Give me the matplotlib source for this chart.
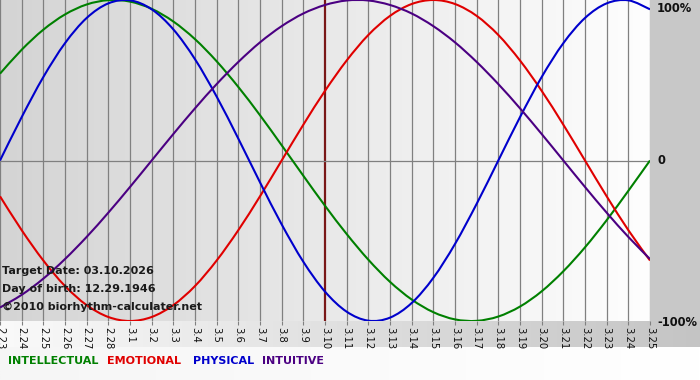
"""Biorhythm chart, 2.23 .. 3.25 around target date 03.10.2026."""

import numpy as np
import matplotlib
matplotlib.use('Agg')
import matplotlib.pyplot as plt
from matplotlib.colors import LinearSegmentedColormap
from matplotlib.path import Path
from matplotlib.patches import PathPatch

W, H = 700, 380

# day labels along the bottom
days = ['2.23', '2.24', '2.25', '2.26', '2.27', '2.28',
        '3.1', '3.2', '3.3', '3.4', '3.5', '3.6', '3.7', '3.8', '3.9', '3.10',
        '3.11', '3.12', '3.13', '3.14', '3.15', '3.16', '3.17', '3.18',
        '3.19', '3.20', '3.21', '3.22', '3.23', '3.24', '3.25']
target_day = '3.10'

# values (fraction of 100%)
intellectual = [0.541, 0.690, 0.815, 0.910, 0.972, 0.999, 0.990, 0.945,
                0.866, 0.756, 0.618, 0.458, 0.282, 0.095, -0.095, -0.282,
                -0.458, -0.618, -0.756, -0.866, -0.945, -0.990, -0.999,
                -0.972, -0.910, -0.815, -0.690, -0.541, -0.372, -0.189, 0.000]
emotional = [-0.223, -0.434, -0.623, -0.782, -0.901, -0.975, -1.000, -0.975,
             -0.901, -0.782, -0.623, -0.434, -0.223, 0.000, 0.223, 0.434,
             0.623, 0.782, 0.901, 0.975, 1.000, 0.975, 0.901, 0.782, 0.623,
             0.434, 0.223, 0.000, -0.223, -0.434, -0.623]
physical = [0.000, 0.270, 0.520, 0.731, 0.888, 0.979, 0.998, 0.942, 0.817,
            0.631, 0.398, 0.136, -0.136, -0.398, -0.631, -0.817, -0.942,
            -0.998, -0.979, -0.888, -0.731, -0.520, -0.270, 0.000, 0.270,
            0.520, 0.731, 0.888, 0.979, 0.998, 0.942]
intuitive = [-0.916, -0.837, -0.736, -0.614, -0.476, -0.325, -0.165, 0.000,
             0.165, 0.325, 0.476, 0.614, 0.736, 0.837, 0.916, 0.969, 0.997,
             0.997, 0.969, 0.916, 0.837, 0.736, 0.614, 0.476, 0.325, 0.165,
             0.000, -0.165, -0.325, -0.476, -0.614]

series = [('INTELLECTUAL', intellectual, '#008000'),
          ('EMOTIONAL', emotional, '#e00000'),
          ('PHYSICAL', physical, '#0000cc'),
          ('INTUITIVE', intuitive, '#4b0082')]

info_lines = ['Target Date: 03.10.2026', 'Day of birth: 12.29.1946',
              '\u00a92010 biorhythm-calculater.net']


def fx(px):
    return px / W


def fy(py):
    return 1 - py / H


def smooth_path(xs, ys):
    # cubic bezier through the daily points (catmull-rom tangents)
    xs = np.asarray(xs, float)
    ys = np.asarray(ys, float)
    verts = [(xs[0], ys[0])]
    codes = [Path.MOVETO]
    for i in range(len(xs) - 1):
        i0 = max(i - 1, 0)
        i3 = min(i + 2, len(xs) - 1)
        c1 = (xs[i] + (xs[i + 1] - xs[i0]) / 6, ys[i] + (ys[i + 1] - ys[i0]) / 6)
        c2 = (xs[i + 1] - (xs[i3] - xs[i]) / 6, ys[i + 1] - (ys[i3] - ys[i]) / 6)
        verts += [c1, c2, (xs[i + 1], ys[i + 1])]
        codes += [Path.CURVE4] * 3
    return Path(verts, codes)


fig = plt.figure(figsize=(W / 100, H / 100), dpi=100)
fig.patch.set_facecolor('#c8c8c8')

# background strips below the plot
bg = fig.add_axes([0, 0, 1, 1], zorder=0)
bg.axis('off')
grad = np.linspace(0, 1, 256).reshape(1, -1)
cm_bottom = LinearSegmentedColormap.from_list('b', ['#fafafa', '#c4c4c4'])
bg.imshow(grad, cmap=cm_bottom, extent=[0, W, 347, 321], aspect='auto')
cm_leg = LinearSegmentedColormap.from_list('l', ['#f6f6f6', '#ffffff'])
bg.imshow(grad, cmap=cm_leg, extent=[0, W, H, 347], aspect='auto')
bg.set_xlim(0, W)
bg.set_ylim(H, 0)

n = len(days)
x = np.arange(n)

ax = fig.add_axes([0, fy(321), fx(650), 321 / H], zorder=1)
cm_plot = LinearSegmentedColormap.from_list('p', ['#d4d4d4', '#fefefe'])
ax.imshow(grad, cmap=cm_plot, extent=[0, n - 1, -1, 1], aspect='auto',
          zorder=0)

for xi, d in zip(x, days):
    if d == target_day:
        ax.axvline(xi, color='#7a1818', lw=1.6, zorder=1)
    else:
        ax.axvline(xi, color='#808080', lw=0.9, zorder=1)
ax.axhline(0, color='#808080', lw=0.9, zorder=1)

for name, vals, col in series:
    ax.add_patch(PathPatch(smooth_path(x, vals), facecolor='none',
                           edgecolor=col, lw=1.5, zorder=2))

ax.set_xlim(0, n - 1)
ax.set_ylim(-1.0, 1.0)
ax.set_yticks([])
ax.set_xticks(x)
ax.set_xticklabels(days, rotation=-90, fontsize=7.2, color='#111111')
ax.tick_params(axis='x', length=3, width=0.8, color='#808080', pad=1)
for s in ax.spines.values():
    s.set_visible(False)

# right axis labels
for txt, py in [('100%', 8), ('0', 161), ('-100%', 322)]:
    fig.text(fx(657), fy(py), txt, fontsize=8.3, fontweight='bold',
             color='#111111', va='center', ha='left', zorder=3)

# info text
for txt, py in zip(info_lines, [271, 289, 307]):
    fig.text(fx(2), fy(py), txt, fontsize=8, fontweight='bold',
             color='#1a1a1a', va='center', ha='left', zorder=3)

# legend
for (name, vals, col), px in zip(series, [8, 107, 193, 262]):
    fig.text(fx(px), fy(361), name, fontsize=8, fontweight='bold',
             color=col, va='center', ha='left', zorder=3)

fig.savefig('out.png', dpi=100, facecolor=fig.get_facecolor())
